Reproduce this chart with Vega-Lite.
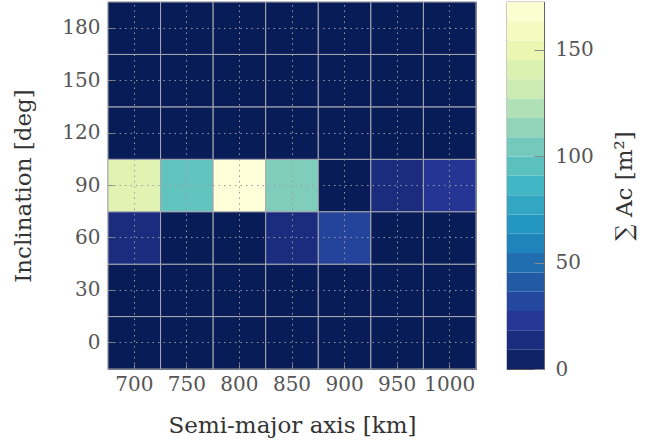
{
  "$schema": "https://vega.github.io/schema/vega-lite/v6.json",
  "padding": {"left": 12, "top": 0, "right": 0, "bottom": 0},
  "background": "white",
  "config": {
    "font": "DejaVu Serif",
    "view": {"stroke": "#555555", "strokeWidth": 1.2},
    "axis": {"labelFont": "DejaVu Serif", "titleFont": "DejaVu Serif", "titleFontWeight": "normal"}
  },
  "datasets": {
    "cells": [
      {"a": 700, "inc": 0, "area": 0}, {"a": 750, "inc": 0, "area": 0}, {"a": 800, "inc": 0, "area": 0}, {"a": 850, "inc": 0, "area": 0}, {"a": 900, "inc": 0, "area": 0}, {"a": 950, "inc": 0, "area": 0}, {"a": 1000, "inc": 0, "area": 0},
      {"a": 700, "inc": 30, "area": 0}, {"a": 750, "inc": 30, "area": 0}, {"a": 800, "inc": 30, "area": 0}, {"a": 850, "inc": 30, "area": 0}, {"a": 900, "inc": 30, "area": 0}, {"a": 950, "inc": 30, "area": 0}, {"a": 1000, "inc": 30, "area": 0},
      {"a": 700, "inc": 60, "area": 14}, {"a": 750, "inc": 60, "area": 0}, {"a": 800, "inc": 60, "area": 0}, {"a": 850, "inc": 60, "area": 14}, {"a": 900, "inc": 60, "area": 29}, {"a": 950, "inc": 60, "area": 0}, {"a": 1000, "inc": 60, "area": 0},
      {"a": 700, "inc": 90, "area": 144}, {"a": 750, "inc": 90, "area": 98}, {"a": 800, "inc": 90, "area": 172.4}, {"a": 850, "inc": 90, "area": 108}, {"a": 900, "inc": 90, "area": 0}, {"a": 950, "inc": 90, "area": 14}, {"a": 1000, "inc": 90, "area": 22},
      {"a": 700, "inc": 120, "area": 0}, {"a": 750, "inc": 120, "area": 0}, {"a": 800, "inc": 120, "area": 0}, {"a": 850, "inc": 120, "area": 0}, {"a": 900, "inc": 120, "area": 0}, {"a": 950, "inc": 120, "area": 0}, {"a": 1000, "inc": 120, "area": 0},
      {"a": 700, "inc": 150, "area": 0}, {"a": 750, "inc": 150, "area": 0}, {"a": 800, "inc": 150, "area": 0}, {"a": 850, "inc": 150, "area": 0}, {"a": 900, "inc": 150, "area": 0}, {"a": 950, "inc": 150, "area": 0}, {"a": 1000, "inc": 150, "area": 0},
      {"a": 700, "inc": 180, "area": 0}, {"a": 750, "inc": 180, "area": 0}, {"a": 800, "inc": 180, "area": 0}, {"a": 850, "inc": 180, "area": 0}, {"a": 900, "inc": 180, "area": 0}, {"a": 950, "inc": 180, "area": 0}, {"a": 1000, "inc": 180, "area": 0}
    ],
    "bands": [
      {"lo": 0, "hi": 9.07, "mid": 4.54}, {"lo": 9.07, "hi": 18.15, "mid": 13.61}, {"lo": 18.15, "hi": 27.22, "mid": 22.68},
      {"lo": 27.22, "hi": 36.29, "mid": 31.76}, {"lo": 36.29, "hi": 45.37, "mid": 40.83}, {"lo": 45.37, "hi": 54.44, "mid": 49.91},
      {"lo": 54.44, "hi": 63.52, "mid": 58.98}, {"lo": 63.52, "hi": 72.59, "mid": 68.05}, {"lo": 72.59, "hi": 81.66, "mid": 77.13},
      {"lo": 81.66, "hi": 90.74, "mid": 86.2}, {"lo": 90.74, "hi": 99.81, "mid": 95.27}, {"lo": 99.81, "hi": 108.88, "mid": 104.35},
      {"lo": 108.88, "hi": 117.96, "mid": 113.42}, {"lo": 117.96, "hi": 127.03, "mid": 122.49}, {"lo": 127.03, "hi": 136.11, "mid": 131.57},
      {"lo": 136.11, "hi": 145.18, "mid": 140.64}, {"lo": 145.18, "hi": 154.25, "mid": 149.72}, {"lo": 154.25, "hi": 163.33, "mid": 158.79},
      {"lo": 163.33, "hi": 172.4, "mid": 167.86}
    ]
  },
  "hconcat": [
    {
      "width": 368,
      "height": 367,
      "data": {"name": "cells"},
      "mark": {"type": "rect", "stroke": "#a8a8b0", "strokeWidth": 1},
      "encoding": {
        "x": {
          "field": "a", "type": "ordinal",
          "scale": {"paddingInner": 0, "paddingOuter": 0},
          "axis": {
            "title": "Semi-major axis [km]", "titleFontSize": 23, "titleColor": "#333333", "titlePadding": 20,
            "labelAngle": 0, "labelFontSize": 20, "labelColor": "#555555", "labelPadding": 10,
            "domain": false, "ticks": true, "tickSize": -5, "tickColor": "#888888",
            "grid": true, "gridColor": "#9a9aa0", "gridDash": [1.5, 4], "gridWidth": 1, "zindex": 1
          }
        },
        "y": {
          "field": "inc", "type": "ordinal", "sort": "descending",
          "scale": {"paddingInner": 0, "paddingOuter": 0},
          "axis": {
            "title": "Inclination [deg]", "titleFontSize": 23, "titleColor": "#333333", "titlePadding": 26,
            "labelFontSize": 20, "labelColor": "#555555", "labelPadding": 13,
            "domain": false, "ticks": true, "tickSize": -5, "tickColor": "#888888",
            "grid": true, "gridColor": "#9a9aa0", "gridDash": [1.5, 4], "gridWidth": 1, "zindex": 1
          }
        },
        "color": {
          "field": "area", "type": "quantitative", "legend": null,
          "scale": {
            "type": "linear", "interpolate": "rgb",
            "domain": [0, 21.55, 43.1, 64.65, 86.2, 107.75, 129.3, 150.85, 172.4],
            "range": ["#081d58", "#253494", "#225ea8", "#1d91c0", "#41b6c4", "#7fcdbb", "#c7e9b4", "#edf8b1", "#ffffd9"]
          }
        }
      }
    },
    {
      "width": 37,
      "height": 367,
      "data": {"name": "bands"},
      "mark": {"type": "rect"},
      "encoding": {
        "y": {
          "field": "lo", "type": "quantitative",
          "scale": {"domain": [0, 172.4], "nice": false, "zero": true},
          "axis": {
            "orient": "right", "values": [0, 50, 100, 150],
            "title": "∑ Ac [m²]", "titleFontSize": 23, "titleColor": "#333333", "titleAngle": 270, "titleBaseline": "top", "titlePadding": 20,
            "labelFontSize": 20, "labelColor": "#555555", "labelPadding": 21, "labelFlush": false,
            "domain": false, "ticks": true, "tickSize": -10, "tickColor": "#888888",
            "grid": false, "zindex": 1
          }
        },
        "y2": {"field": "hi"},
        "color": {
          "field": "mid", "type": "quantitative", "legend": null,
          "scale": {
            "type": "linear", "interpolate": "rgb",
            "domain": [0, 21.55, 43.1, 64.65, 86.2, 107.75, 129.3, 150.85, 172.4],
            "range": ["#081d58", "#253494", "#225ea8", "#1d91c0", "#41b6c4", "#7fcdbb", "#c7e9b4", "#edf8b1", "#ffffd9"]
          }
        }
      }
    }
  ],
  "spacing": 28,
  "resolve": {"scale": {"color": "shared", "y": "independent", "x": "independent"}}
}
